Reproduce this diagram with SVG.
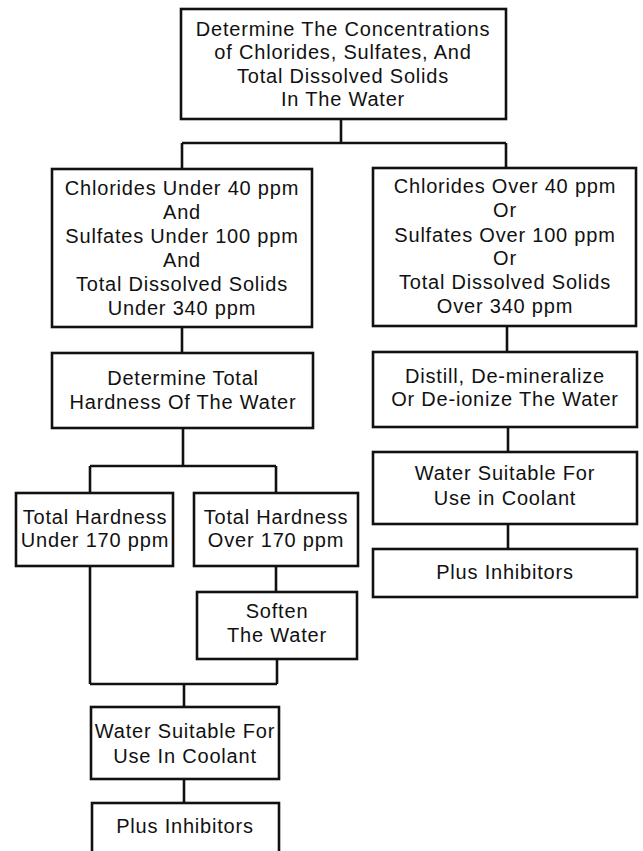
<svg xmlns="http://www.w3.org/2000/svg" width="643" height="851" viewBox="0 0 643 851">
<style>
.box{fill:#fff;stroke:#111;stroke-width:2.6}
.ln{fill:none;stroke:#111;stroke-width:2.6}
text{font-family:"Liberation Sans",Arial,Helvetica,sans-serif;font-size:20px;fill:#111;text-anchor:middle;letter-spacing:0.8px}
</style>
<rect width="643" height="851" fill="#fff"/>
<g id="connectors">
<path class="ln" d="M341 119V143M182 143H506M182 143V169M506 143V168"/>
<path class="ln" d="M182 327V353M183 428V466M90 466H276M90 466V493M276 466V493"/>
<path class="ln" d="M276 566V592M90 566V684M277 659V684M90 684H277M184 684V707M184 779V803"/>
<path class="ln" d="M507 326V352M508 427V452M508 524V549"/>
</g>
<g id="n1"><rect class="box" x="181" y="9" width="325" height="110"/>
<text x="343" y="35.5">Determine The Concentrations</text>
<text x="343" y="59">of Chlorides, Sulfates, And</text>
<text x="343" y="82.5">Total Dissolved Solids</text>
<text x="343" y="106">In The Water</text></g>
<g id="n2"><rect class="box" x="52" y="169" width="260" height="158"/>
<text x="182" y="195">Chlorides Under 40 ppm</text>
<text x="182" y="219">And</text>
<text x="182" y="243">Sulfates Under 100 ppm</text>
<text x="182" y="267">And</text>
<text x="182" y="291">Total Dissolved Solids</text>
<text x="182" y="314.5">Under 340 ppm</text></g>
<g id="n3"><rect class="box" x="373" y="168" width="263" height="158"/>
<text x="505" y="193">Chlorides Over 40 ppm</text>
<text x="505" y="217">Or</text>
<text x="505" y="241.5">Sulfates Over 100 ppm</text>
<text x="505" y="264.5">Or</text>
<text x="505" y="288.5">Total Dissolved Solids</text>
<text x="505" y="312.5">Over 340 ppm</text></g>
<g id="n4"><rect class="box" x="52" y="353" width="261" height="75"/>
<text x="183" y="385">Determine Total</text>
<text x="183" y="409">Hardness Of The Water</text></g>
<g id="n5"><rect class="box" x="16" y="493" width="157" height="73"/>
<text x="95" y="524">Total Hardness</text>
<text x="95" y="547">Under 170 ppm</text></g>
<g id="n6"><rect class="box" x="194" y="493" width="164" height="73"/>
<text x="276" y="524">Total Hardness</text>
<text x="276" y="547">Over 170 ppm</text></g>
<g id="n7"><rect class="box" x="197" y="592" width="160" height="67"/>
<text x="277" y="618">Soften</text>
<text x="277" y="642">The Water</text></g>
<g id="n8"><rect class="box" x="91" y="707" width="188" height="72"/>
<text x="185" y="738" letter-spacing="0.3">Water Suitable For</text>
<text x="185" y="763">Use In Coolant</text></g>
<g id="n9"><rect class="box" x="92" y="803" width="187" height="60"/>
<text x="185" y="833">Plus Inhibitors</text></g>
<g id="n10"><rect class="box" x="373" y="352" width="264" height="75"/>
<text x="505" y="383">Distill, De-mineralize</text>
<text x="505" y="406">Or De-ionize The Water</text></g>
<g id="n11"><rect class="box" x="373" y="452" width="264" height="72"/>
<text x="505" y="480">Water Suitable For</text>
<text x="505" y="505">Use in Coolant</text></g>
<g id="n12"><rect class="box" x="373" y="549" width="264" height="48"/>
<text x="505" y="578.5">Plus Inhibitors</text></g>
</svg>
